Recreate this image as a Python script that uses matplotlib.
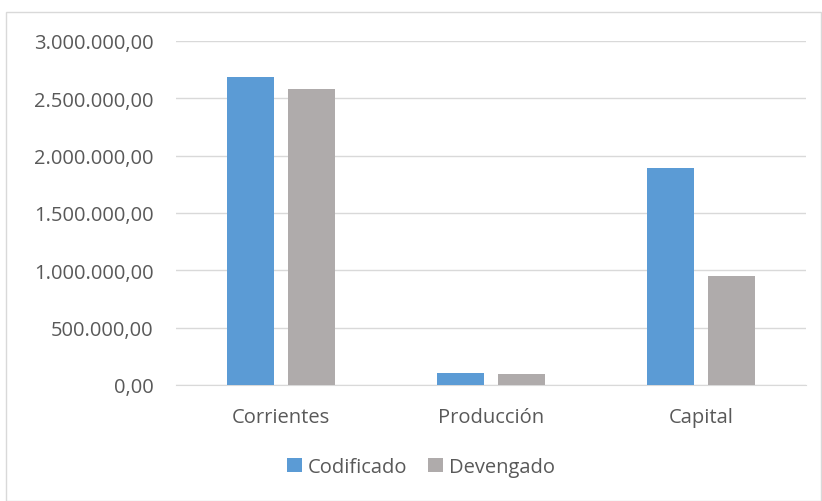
import matplotlib.pyplot as plt
import numpy as np
from matplotlib.patches import Rectangle

categorias = ['Corrientes', 'Producción', 'Capital']
codificado = [2690000, 107000, 1890000]
devengado = [2585000, 96000, 947000]
yticks = [0, 500000, 1000000, 1500000, 2000000, 2500000, 3000000]

plt.rcParams['font.family'] = ['Open Sans', 'DejaVu Sans']
gris_texto = '#595959'

fig = plt.figure(figsize=(8.22, 5.02), dpi=100)
# marco exterior del gráfico
fig.patches.append(Rectangle((6/822, 0), 1 - 7/822, 1 - 13/502, transform=fig.transFigure,
                             fill=False, edgecolor='#d9d9d9', linewidth=1))
ax = fig.add_axes([176/822, 1 - 386/502, 630/822, 344/502])

x = np.arange(len(categorias))
ancho = 0.224
ax.bar(x - 0.143, codificado, ancho, color='#5b9bd5', label='Codificado', zorder=3)
ax.bar(x + 0.143, devengado, ancho, color='#afabab', label='Devengado', zorder=3)

def fmt(v):
    s = f'{v:,.2f}'
    return s.replace(',', 'X').replace('.', ',').replace('X', '.')

ax.set_xlim(-0.5, 2.5)
ax.set_ylim(0, 3000000)
ax.set_yticks(yticks)
ax.set_yticklabels([fmt(v) for v in yticks])
ax.set_xticks(x)
ax.set_xticklabels(categorias)
ax.tick_params(axis='both', length=0, labelsize=14.5, colors=gris_texto)
ax.tick_params(axis='y', pad=16)
ax.tick_params(axis='x', pad=16)
ax.grid(axis='y', color='#d9d9d9', linewidth=1, zorder=0)
for s in ['top', 'right', 'left']:
    ax.spines[s].set_visible(False)
ax.spines['bottom'].set_color('#d9d9d9')

leg = fig.legend(loc='center', bbox_to_anchor=(421/822, 1 - 468/502), ncol=2, frameon=False,
                 fontsize=14.5, handlelength=0.75, handleheight=0.75, handletextpad=0.3, columnspacing=1.0)
for t in leg.get_texts():
    t.set_color(gris_texto)

fig.savefig('out.png', dpi=100)
